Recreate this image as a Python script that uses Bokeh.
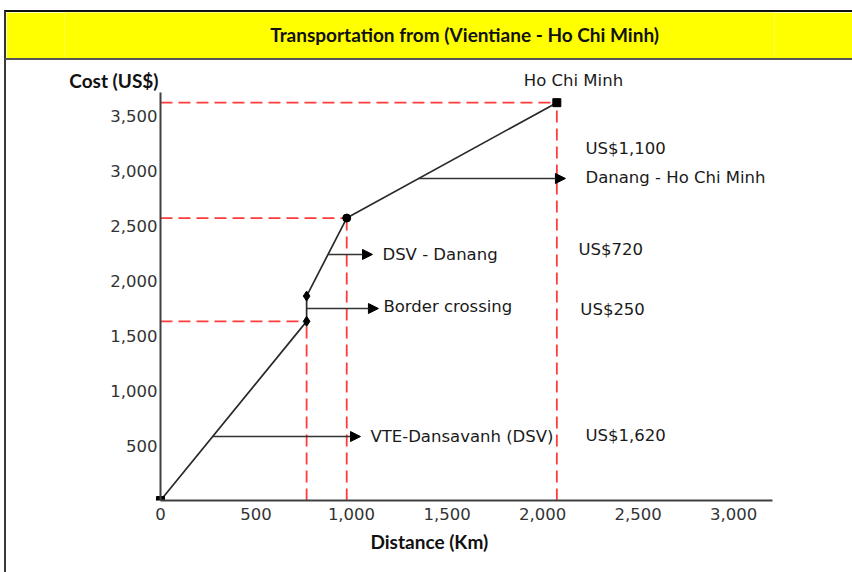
import numpy as np
from bokeh.plotting import figure
from bokeh.layouts import column
from bokeh.models import (Range1d, FixedTicker, NumeralTickFormatter, Label, LabelSet,
                          ColumnDataSource, Arrow, NormalHead, Title)
from bokeh.core.properties import value
from bokeh.embed import file_html
from bokeh.resources import INLINE

# ---------------- data ----------------
title_text = "Transportation from (Vientiane - Ho Chi Minh)"
stops = ["Vientiane", "Dansavanh", "Border", "Danang", "Ho Chi Minh"]
distance_km = [0, 765, 765, 975, 2075]
cost_usd = [0, 1630, 1860, 2570, 3620]
segments = ["VTE-Dansavanh (DSV)", "Border crossing", "DSV - Danang", "Danang - Ho Chi Minh"]
segment_costs = ["US$1,620", "US$250", "US$720", "US$1,100"]
x_ticks = [0, 500, 1000, 1500, 2000, 2500, 3000]
y_ticks = [500, 1000, 1500, 2000, 2500, 3000, 3500]
x_axis_end = 3204
y_axis_end = 3713
guide_points = [1, 3, 4]  # stops with red dashed guide lines

# annotation layout (data coordinates)
arrow_y = [582, 1747, 2239, 2930]
arrow_end_x = [1047, 1141, 1110, 2120]
seg_label_x = [1099, 1167, 1162, 2225]
seg_label_y = [582, 1765, 2239, 2939]
cost_label_x = [2225, 2198, 2188, 2225]
cost_label_y = [592, 1738, 2284, 3203]

FONT = "DejaVu Sans"
BOLD = "Lato"
FS = "16.5px"
BFS = "19px"

# ---------------- main chart ----------------
x_range = Range1d(-502.5, x_axis_end)
p = figure(width=846, height=512, x_range=x_range, y_range=Range1d(0, 3949),
           toolbar_location=None, output_backend="svg",
           min_border_left=58, min_border_right=80, min_border_top=6, min_border_bottom=72,
           outline_line_color=None, background_fill_color="white", border_fill_color="white",
           styles={"border-left": "2px solid #3a3a3a"})
p.grid.visible = False
for ax in (p.xaxis[0], p.yaxis[0]):
    ax.axis_line_color = "#404040"
    ax.axis_line_width = 2
    ax.major_tick_line_color = None
    ax.minor_tick_line_color = None
    ax.major_tick_in = 0
    ax.major_tick_out = 0
    ax.major_label_text_font = FONT
    ax.major_label_text_font_size = FS
    ax.major_label_text_color = "#333333"
    ax.formatter = NumeralTickFormatter(format="0,0")
p.xaxis[0].ticker = FixedTicker(ticks=x_ticks)
p.yaxis[0].ticker = FixedTicker(ticks=y_ticks)
p.xaxis[0].bounds = (0, x_axis_end)
p.yaxis[0].bounds = (0, y_axis_end)
p.yaxis[0].fixed_location = 0
p.xaxis[0].major_label_standoff = 7
p.yaxis[0].major_label_standoff = 3

# red dashed guides
gx = [distance_km[i] for i in guide_points]
gy = [cost_usd[i] for i in guide_points]
p.segment(x0=[0] * len(gx), y0=gy, x1=gx, y1=gy, line_color="#ff3b3b", line_width=1.8,
          line_dash="12 6")
p.segment(x0=gx, y0=[0] * len(gx), x1=gx, y1=gy, line_color="#ff3b3b", line_width=1.8,
          line_dash="12 6")

# route line and points
p.line(distance_km, cost_usd, line_color="#2a2a2a", line_width=1.7)
markers = ["square", "diamond", "diamond", "circle", "square"]
p.scatter(distance_km, cost_usd, marker=markers, size=[8, 10, 10, 8, 8],
          fill_color="black", line_color="black")

# arrows from each segment
arrow_x0 = []
for i, yv in enumerate(arrow_y):
    xs = [distance_km[i], distance_km[i + 1]]
    ys = [cost_usd[i], cost_usd[i + 1]]
    arrow_x0.append(float(np.interp(yv, ys, xs)))
asrc = ColumnDataSource(dict(x0=arrow_x0, y0=arrow_y, x1=arrow_end_x, y1=arrow_y))
p.add_layout(Arrow(end=NormalHead(size=10, fill_color="black", line_color="black"),
                   x_start="x0", y_start="y0", x_end="x1", y_end="y1", source=asrc,
                   line_color="#333333", line_width=1.6))

lsrc = ColumnDataSource(dict(x=seg_label_x, y=seg_label_y, t=segments))
p.add_layout(LabelSet(x="x", y="y", text="t", source=lsrc, text_align="left",
                      text_baseline="middle", text_font=value(FONT), text_font_size=FS,
                      text_color="#1a1a1a"))
csrc = ColumnDataSource(dict(x=cost_label_x, y=cost_label_y, t=segment_costs))
p.add_layout(LabelSet(x="x", y="y", text="t", source=csrc, text_align="left",
                      text_baseline="middle", text_font=value(FONT), text_font_size=FS,
                      text_color="#1a1a1a"))

p.add_layout(Label(x=2162, y=3822, text=stops[-1], text_align="center", text_baseline="middle",
                   text_font=FONT, text_font_size=FS, text_color="#1a1a1a"))
p.add_layout(Label(x=-10, y=3822, text="Cost (US$)", text_align="right", text_baseline="middle",
                   text_font=BOLD, text_font_style="bold", text_font_size=BFS,
                   text_color="#111111"))
p.add_layout(Title(text="Distance (Km)", align="left", offset=306, text_font=BOLD,
                   text_font_style="bold", text_font_size=BFS, text_color="#111111"), "below")

# ---------------- header ----------------
hdr = figure(width=848, height=50, x_range=x_range, y_range=Range1d(0, 46),
             toolbar_location=None, output_backend="svg", min_border=0,
             background_fill_color="#ffff00", border_fill_color="#ffff00",
             outline_line_color=None,
             styles={"border-top": "2px solid #111111", "border-bottom": "2px solid #555555",
                     "border-left": "2px solid #333333"})
hdr.axis.visible = False
hdr.grid.visible = False
hdr.add_layout(Label(x=(463 - 160) / 0.19104, y=26, text=title_text, text_align="center",
                     text_baseline="middle", text_font=BOLD, text_font_style="bold",
                     text_font_size=BFS, text_color="#111111"))

layout = column(hdr, p, margin=(10, 0, 0, 4), spacing=0)
open("out.html", "w").write(file_html(layout, INLINE))
